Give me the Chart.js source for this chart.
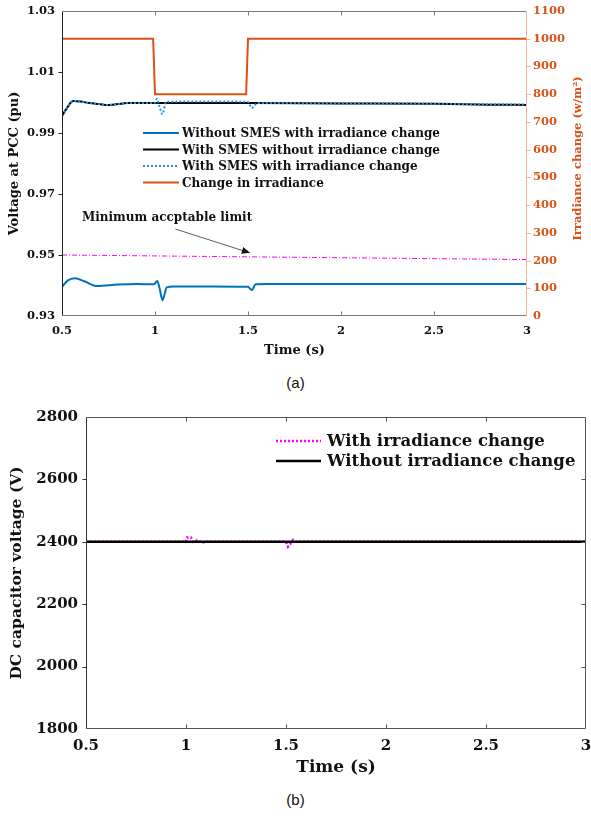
<!DOCTYPE html>
<html><head><meta charset="utf-8">
<script src="https://cdn.jsdelivr.net/npm/chart.js@4.4.0/dist/chart.umd.min.js"></script>
<style>
html,body{margin:0;padding:0;background:#fff;width:591px;height:822px;overflow:hidden;}
.wrap{position:absolute;left:0;width:591px;}
.cap{position:absolute;left:0;width:591px;text-align:center;font-family:"Liberation Sans",Arial,sans-serif;font-size:15px;color:#111;}
</style></head><body>
<div class="wrap" style="top:0;height:370px"><canvas id="ca" width="591" height="370"></canvas></div>
<div class="cap" style="top:374px">(a)</div>
<div class="wrap" style="top:400px;height:390px"><canvas id="cb" width="591" height="390"></canvas></div>
<div class="cap" style="top:791px">(b)</div>
<script>
// ---------- tick values ----------
const timeTicks = [0.5, 1, 1.5, 2, 2.5, 3];
const voltTicks = [0.93, 0.95, 0.97, 0.99, 1.01, 1.03];
const irrTicks = [0, 100, 200, 300, 400, 500, 600, 700, 800, 900, 1000, 1100];
const dcTicks = [1800, 2000, 2200, 2400, 2600, 2800];

// ---------- chart (a) data ----------
const tNoSmesIrr = [0.5, 0.53, 0.57, 0.62, 0.69, 0.8, 0.9, 0.995, 1.012, 1.025, 1.04, 1.05, 1.063, 1.1, 1.3, 1.5, 1.51, 1.522, 1.54, 1.6, 2, 2.5, 3];
const vNoSmesIrr = [0.9395, 0.9416, 0.9424, 0.9414, 0.9398, 0.9403, 0.9405, 0.9404, 0.9415, 0.9390, 0.9352, 0.9368, 0.9394, 0.9397, 0.9397, 0.9396, 0.9390, 0.9385, 0.9404, 0.9405, 0.9405, 0.9405, 0.9405];

const tSmesNoIrr = [0.5, 0.53, 0.56, 0.6, 0.65, 0.7, 0.745, 0.8, 0.85, 1, 1.5, 2, 2.5, 2.8, 3];
const vSmesNoIrr = [0.9956, 0.9985, 1.0005, 1.0003, 0.9998, 0.9995, 0.9992, 0.9995, 0.9998, 0.9998, 0.9998, 0.9997, 0.9996, 0.9993, 0.9992];

const tSmesIrr = [0.5, 0.53, 0.56, 0.6, 0.65, 0.7, 0.745, 0.8, 0.85, 1, 1.01, 1.025, 1.04, 1.06, 1.2, 1.4, 1.5, 1.52, 1.55, 1.7, 2, 2.5, 3];
const vSmesIrr = [0.9956, 0.9985, 1.0005, 1.0003, 0.9998, 0.9995, 0.9992, 0.9995, 0.9998, 0.9999, 1.0012, 0.9985, 0.9962, 1.0002, 1.0003, 1.0003, 1.0002, 0.9982, 0.9998, 0.9998, 0.9997, 0.9996, 0.9993];

const tIrr = [0.5, 0.99, 1.0, 1.49, 1.5, 3];
const irr = [1000, 1000, 800, 800, 1000, 1000];

const tLimit = [0.5, 1, 1.5, 2, 2.5, 3];
const vLimit = [0.9500, 0.9497, 0.9494, 0.9491, 0.9488, 0.9485];

// ---------- chart (b) data ----------
const tDcIrr = [0.5, 1.0, 1.005, 1.025, 1.035, 1.06, 1.07, 1.08, 1.1, 1.5, 1.51, 1.52, 1.535, 1.55, 1.6, 3];
const vDcIrr = [2400, 2400, 2414, 2414, 2400, 2406, 2400, 2397, 2400, 2400, 2384, 2392, 2406, 2400, 2400, 2400];
const tDcNoIrr = [0.5, 3];
const vDcNoIrr = [2400, 2400];

const pts = (xs, ys) => xs.map((x, i) => ({x: x, y: ys[i]}));

const SERIF = "'DejaVu Serif', 'Liberation Serif', serif";

// ---------- plugins ----------
const framePlugin = {
  id: 'frame',
  afterDatasetsDraw(chart, args, o) {
    const {ctx, chartArea: a, scales} = chart;
    ctx.save();
    ctx.lineWidth = 1;
    const line = (x1, y1, x2, y2, c) => { ctx.strokeStyle = c; ctx.beginPath(); ctx.moveTo(x1, y1); ctx.lineTo(x2, y2); ctx.stroke(); };
    const L = Math.round(a.left) + 0.5, R = Math.round(a.right) - 0.5, T = Math.round(a.top) + 0.5, B = Math.round(a.bottom) - 0.5;
    const xs = scales.x;
    xs.ticks.forEach(t => {
      const px = Math.round(xs.getPixelForValue(t.value)) + 0.5;
      if (px > L + 1 && px < R - 1) {
        line(px, B, px, B - o.len, o.bottomColor);
        line(px, T, px, T + o.len, o.topColor);
      }
    });
    const yl = scales[o.leftId];
    yl.ticks.forEach(t => {
      const py = Math.round(yl.getPixelForValue(t.value)) + 0.5;
      if (py > T + 1 && py < B - 1) line(L - o.len, py, L, py, o.leftColor);
    });
    if (o.rightId) {
      const yr = scales[o.rightId];
      yr.ticks.forEach(t => {
        const py = Math.round(yr.getPixelForValue(t.value)) + 0.5;
        if (py > T + 1 && py < B - 1) line(R, py, R + o.len, py, o.rightColor);
      });
    } else {
      yl.ticks.forEach(t => {
        const py = Math.round(yl.getPixelForValue(t.value)) + 0.5;
        if (py > T + 1 && py < B - 1) line(R - o.len, py, R, py, o.rightColor);
      });
    }
    line(L, T, R, T, o.topColor);
    line(L, B, R, B, o.bottomColor);
    line(L, T, L, B, o.leftColor);
    line(R, T, R, B, o.rightColor);
    ctx.restore();
  }
};

const legendPlugin = {
  id: 'lineLegend',
  afterDraw(chart, args, o) {
    const ctx = chart.ctx;
    ctx.save();
    ctx.font = o.font;
    ctx.textBaseline = 'middle';
    ctx.fillStyle = o.color;
    o.order.forEach((di, i) => {
      const ds = chart.data.datasets[di];
      const y = o.y + i * o.rowH;
      ctx.strokeStyle = ds.borderColor;
      ctx.lineWidth = ds.borderWidth;
      ctx.setLineDash(ds.borderDash || []);
      ctx.beginPath(); ctx.moveTo(o.x, y); ctx.lineTo(o.x + o.lineLen, y); ctx.stroke();
      ctx.setLineDash([]);
      ctx.fillText(ds.label, o.x + o.lineLen + o.gap, y + 1);
    });
    ctx.restore();
  }
};

const notePlugin = {
  id: 'note',
  afterDatasetsDraw(chart, args, o) {
    if (!o || !o.text) return;
    const ctx = chart.ctx, xs = chart.scales.x, ys = chart.scales[o.yId];
    const tx = xs.getPixelForValue(o.textAt[0]), ty = ys.getPixelForValue(o.textAt[1]);
    const x1 = xs.getPixelForValue(o.from[0]), y1 = ys.getPixelForValue(o.from[1]);
    const x2 = xs.getPixelForValue(o.to[0]), y2 = ys.getPixelForValue(o.to[1]);
    ctx.save();
    ctx.font = o.font; ctx.fillStyle = '#111'; ctx.textAlign = 'center'; ctx.textBaseline = 'middle';
    ctx.fillText(o.text, tx, ty);
    ctx.strokeStyle = '#333'; ctx.lineWidth = 0.8;
    ctx.beginPath(); ctx.moveTo(x1, y1); ctx.lineTo(x2, y2); ctx.stroke();
    const ang = Math.atan2(y2 - y1, x2 - x1), h = 8, w = 3.5;
    ctx.fillStyle = '#111';
    ctx.beginPath();
    ctx.moveTo(x2, y2);
    ctx.lineTo(x2 - h * Math.cos(ang) + w * Math.sin(ang), y2 - h * Math.sin(ang) - w * Math.cos(ang));
    ctx.lineTo(x2 - h * Math.cos(ang) - w * Math.sin(ang), y2 - h * Math.sin(ang) + w * Math.cos(ang));
    ctx.closePath(); ctx.fill();
    ctx.restore();
  }
};

// right-axis title reading bottom-to-top (like the MATLAB original)
const rightTitlePlugin = {
  id: 'rightTitle',
  afterDraw(chart, args, o) {
    if (!o || !o.text) return;
    const ctx = chart.ctx, a = chart.chartArea;
    ctx.save();
    ctx.translate(o.x, (a.top + a.bottom) / 2 + o.dy);
    ctx.rotate(-Math.PI / 2);
    ctx.font = o.font; ctx.fillStyle = o.color; ctx.textAlign = 'center'; ctx.textBaseline = 'middle';
    ctx.fillText(o.text, 0, 0);
    ctx.restore();
  }
};

const setTicks = arr => scale => { scale.ticks = arr.map(v => ({value: v})); };
const fitY = w => s => { s.width = w; s.paddingTop = 0; s.paddingBottom = 0; };
const fitX = h => s => { s.height = h; s.paddingLeft = 0; s.paddingRight = 0; };

// ---------- chart (a) ----------
new Chart(document.getElementById('ca'), {
  type: 'line',
  data: {
    datasets: [
      {label: 'Without SMES with irradiance change', data: pts(tNoSmesIrr, vNoSmesIrr), yAxisID: 'yV',
       borderColor: '#0072BD', borderWidth: 2, order: 2, cubicInterpolationMode: 'monotone'},
      {label: 'With SMES without irradiance change', data: pts(tSmesNoIrr, vSmesNoIrr), yAxisID: 'yV',
       borderColor: '#000000', borderWidth: 2, order: 3, cubicInterpolationMode: 'monotone'},
      {label: 'With SMES with irradiance change', data: pts(tSmesIrr, vSmesIrr), yAxisID: 'yV',
       borderColor: '#2a8fd8', borderWidth: 2, borderDash: [2, 2], order: 1, cubicInterpolationMode: 'monotone'},
      {label: 'Change in irradiance', data: pts(tIrr, irr), yAxisID: 'yI',
       borderColor: '#D95319', borderWidth: 2, order: 4},
      {label: 'Minimum acceptable limit', data: pts(tLimit, vLimit), yAxisID: 'yV',
       borderColor: '#FF00FF', borderWidth: 1, borderDash: [5, 2, 1, 2], order: 5}
    ]
  },
  options: {
    responsive: false, animation: false,
    elements: {point: {radius: 0}, line: {tension: 0}},
    layout: {padding: {top: 11, left: 0, right: 0, bottom: 0}},
    plugins: {
      legend: {display: false}, tooltip: {enabled: false},
      frame: {len: 4, topColor: '#7a7a7a', bottomColor: '#7a7a7a', leftColor: '#222', rightColor: '#F2B49B', leftId: 'yV', rightId: 'yI'},
      lineLegend: {x: 143, y: 133, rowH: 16.5, lineLen: 36, gap: 3, order: [0, 1, 2, 3],
                   font: "bold 12px " + SERIF, color: '#111'},
      note: {text: 'Minimum accptable limit', font: "bold 12px " + SERIF, yId: 'yV',
             textAt: [1.065, 0.9621], from: [1.11, 0.9585], to: [1.51, 0.9507]},
      rightTitle: {text: 'Irradiance change (w/m²)', font: "bold 11.5px " + SERIF, color: '#D95319', x: 578, dy: -5}
    },
    scales: {
      x: {type: 'linear', min: 0.5, max: 3,
          afterBuildTicks: setTicks(timeTicks),
          afterFit: fitX(54),
          grid: {display: false, drawTicks: false}, border: {display: false},
          ticks: {padding: 8, color: '#111', font: {family: SERIF, size: 11.5, weight: 'bold'}, callback: v => String(v), maxRotation: 0},
          title: {display: true, text: 'Time (s)', color: '#111', font: {family: SERIF, size: 13, weight: 'bold'}, padding: {top: 0, bottom: 12}}},
      yV: {type: 'linear', position: 'left', min: 0.93, max: 1.03,
           afterBuildTicks: setTicks(voltTicks),
           afterFit: fitY(62),
           grid: {display: false, drawTicks: false}, border: {display: false},
           ticks: {padding: 7, color: '#111', font: {family: SERIF, size: 11.5, weight: 'bold'}, callback: v => v.toFixed(2)},
           title: {display: true, text: 'Voltage at PCC (pu)', color: '#111', font: {family: SERIF, size: 13, weight: 'bold'}, padding: {top: 7, bottom: 0}}},
      yI: {type: 'linear', position: 'right', min: 0, max: 1100,
           afterBuildTicks: setTicks(irrTicks),
           afterFit: fitY(64),
           grid: {display: false, drawTicks: false}, border: {display: false},
           ticks: {padding: 6, color: '#D95319', font: {family: SERIF, size: 11.5, weight: 'bold'}, callback: v => String(v)},
           title: {display: false}}
    }
  },
  plugins: [framePlugin, legendPlugin, notePlugin, rightTitlePlugin]
});

// ---------- chart (b) ----------
new Chart(document.getElementById('cb'), {
  type: 'line',
  data: {
    datasets: [
      {label: 'With irradiance change', data: pts(tDcIrr, vDcIrr), borderColor: '#FF00FF', borderWidth: 2.5, borderDash: [2, 2], order: 2},
      {label: 'Without irradiance change', data: pts(tDcNoIrr, vDcNoIrr), borderColor: '#000000', borderWidth: 2.5, order: 1}
    ]
  },
  options: {
    responsive: false, animation: false,
    elements: {point: {radius: 0}, line: {tension: 0}},
    layout: {padding: {top: 17, left: 0, right: 5, bottom: 0}},
    plugins: {
      legend: {display: false}, tooltip: {enabled: false},
      frame: {len: 4, topColor: '#555', bottomColor: '#555', leftColor: '#333', rightColor: '#555', leftId: 'y'},
      lineLegend: {x: 276, y: 41, rowH: 20, lineLen: 45, gap: 6, order: [0, 1],
                   font: "bold 16.5px " + SERIF, color: '#111'}
    },
    scales: {
      x: {type: 'linear', min: 0.5, max: 3,
          afterBuildTicks: setTicks(timeTicks),
          afterFit: fitX(61),
          grid: {display: false, drawTicks: false}, border: {display: false},
          ticks: {padding: 8, color: '#111', font: {family: SERIF, size: 15, weight: 'bold'}, callback: v => String(v), maxRotation: 0},
          title: {display: true, text: 'Time (s)', color: '#111', font: {family: SERIF, size: 17, weight: 'bold'}, padding: {top: 0, bottom: 12}}},
      y: {type: 'linear', min: 1800, max: 2800,
          afterBuildTicks: setTicks(dcTicks),
          afterFit: fitY(86),
          grid: {display: false, drawTicks: false}, border: {display: false},
          ticks: {padding: 8, color: '#111', font: {family: SERIF, size: 15, weight: 'bold'}, callback: v => String(v)},
          title: {display: true, text: 'DC capacitor voltage (V)', color: '#111', font: {family: SERIF, size: 15.5, weight: 'bold'}, padding: {top: 8, bottom: 0}}}
    }
  },
  plugins: [framePlugin, legendPlugin]
});
</script>
</body></html>
